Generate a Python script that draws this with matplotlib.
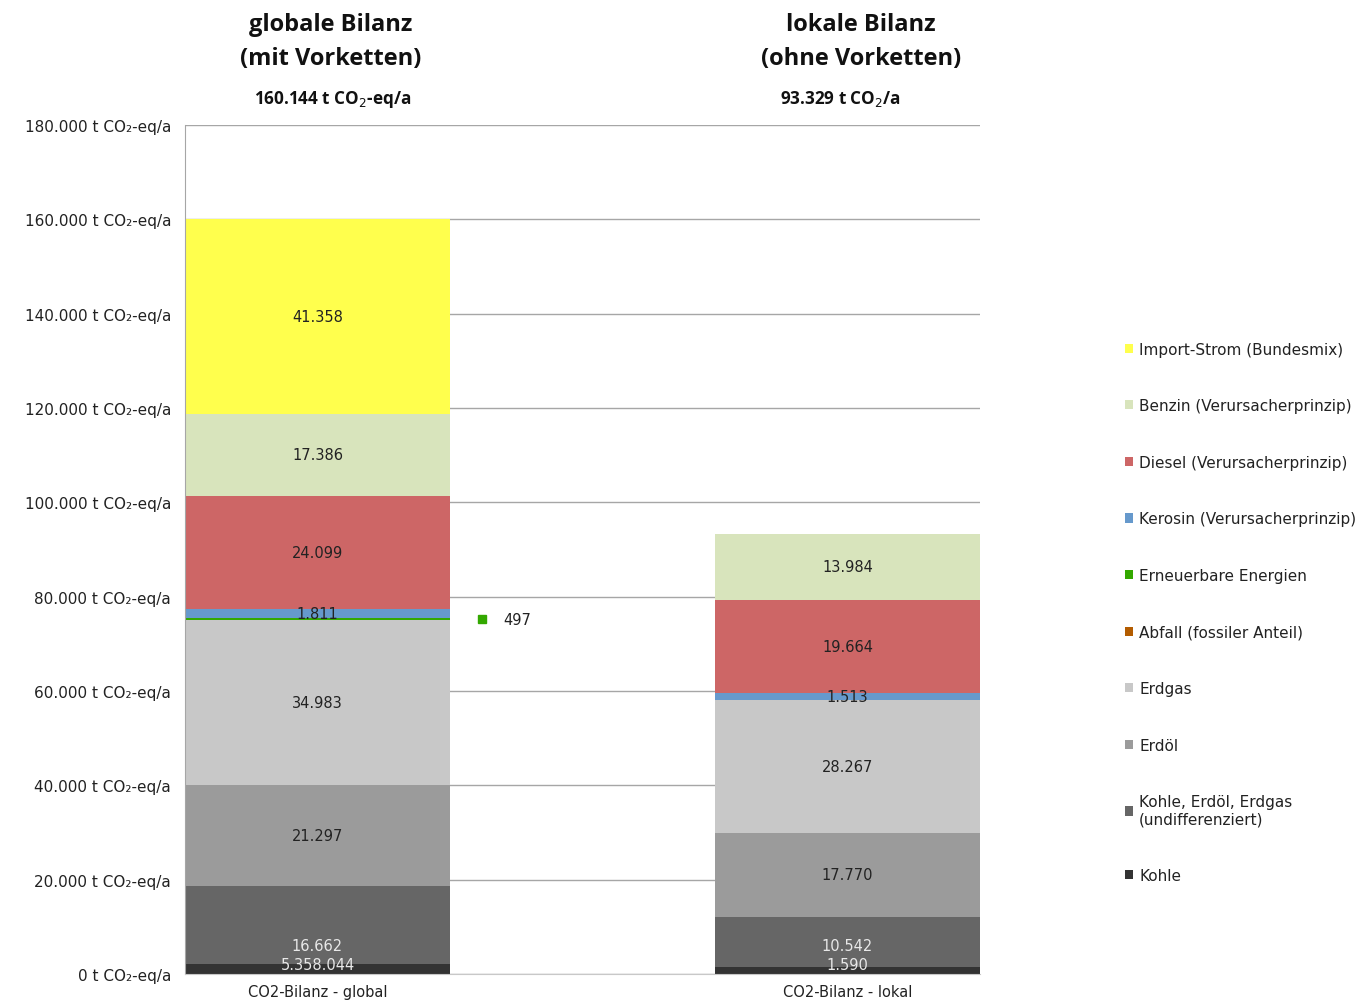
import matplotlib
matplotlib.use('Agg')
from matplotlib import pyplot as plt
from matplotlib.patches import Patch
from matplotlib.ticker import FuncFormatter

# Daten (t CO2-eq/a), Reihenfolge von unten nach oben im Stapel
kategorien = ['CO2-Bilanz - global', 'CO2-Bilanz - lokal']
traeger = ['Kohle', 'Kohle, Erdöl, Erdgas\n(undifferenziert)', 'Erdöl', 'Erdgas',
           'Abfall (fossiler Anteil)', 'Erneuerbare Energien', 'Kerosin (Verursacherprinzip)',
           'Diesel (Verursacherprinzip)', 'Benzin (Verursacherprinzip)', 'Import-Strom (Bundesmix)']
farben = ['#333333', '#666666', '#9b9b9b', '#c8c8c8', '#b35c00', '#33a800', '#6699cc',
          '#cd6666', '#d8e4bc', '#ffff4d']
werte_global = [2051, 16662, 21297, 34983, 0, 497, 1811, 24099, 17386, 41358]
werte_lokal = [1590, 10542, 17770, 28267, 0, 0, 1513, 19664, 13984, 0]
# Beschriftungen wie im Original (Kohle global steht dort als 5.358.044)
labels_global = ['5.358.044', '16.662', '21.297', '34.983', '', '', '1.811', '24.099', '17.386', '41.358']
labels_lokal = ['1.590', '10.542', '17.770', '28.267', '', '', '1.513', '19.664', '13.984', '']
titel = ['globale Bilanz\n(mit Vorketten)', 'lokale Bilanz\n(ohne Vorketten)']
summen = ['160.144 t CO$_2$-eq/a', '93.329 t CO$_2$/a']

fig = plt.figure(figsize=(13.63, 10.03), dpi=100)
ax = fig.add_axes([0.1357, 0.0279, 0.5833, 0.8465])

x = [0, 1]
breite = 0.5
boden = [0, 0]
for i, name in enumerate(traeger):
    h = [werte_global[i], werte_lokal[i]]
    ax.bar(x, h, breite, bottom=boden, color=farben[i], zorder=2)
    for j, lab in enumerate([labels_global[i], labels_lokal[i]]):
        if lab == '':
            continue
        y = boden[j] + h[j] / 2
        farbe = '#222222'
        if i == 0:
            y = 2000
            farbe = '#e8e8e8'
        elif i == 1:
            y = 6000
            farbe = '#e8e8e8'
        ax.text(x[j], y, lab, ha='center', va='center', fontsize=10.5, color=farbe, zorder=3)
    boden = [boden[0] + h[0], boden[1] + h[1]]

# Erneuerbare (global) neben dem Balken beschriftet
y_ee = sum(werte_global[:5]) + werte_global[5] / 2
ax.plot([0.31], [y_ee], marker='s', color=farben[5], markersize=6, linestyle='none', zorder=3)
ax.text(0.35, y_ee, str(werte_global[5]), va='center', fontsize=10.5, color='#222222')

ax.set_xlim(-0.25, 1.25)
ax.set_ylim(0, 180000)
ax.set_yticks(range(0, 180001, 20000))
ax.yaxis.set_major_formatter(FuncFormatter(
    lambda v, p: '{:,.0f}'.format(v).replace(',', '.') + ' t CO₂-eq/a'))
ax.set_xticks(x)
ax.set_xticklabels(kategorien)
ax.tick_params(axis='y', length=0, pad=10, labelsize=11, labelcolor='#222222')
ax.tick_params(axis='x', length=0, pad=7, labelsize=10.5, labelcolor='#222222')
ax.grid(axis='y', color='#a6a6a6', linewidth=1, zorder=0)
ax.set_axisbelow(True)
for s in ['top', 'right']:
    ax.spines[s].set_visible(False)
ax.spines['left'].set_color('#a6a6a6')
ax.spines['bottom'].set_color('#c8c8c8')

# Titel über den Balken
for j in range(2):
    xt = ax.transData.transform((x[j], 0))[0] / fig.bbox.width
    fig.text(xt + 0.01, 0.958, titel[j], ha='center', va='center', fontsize=17,
             fontweight='bold', family='Open Sans', linespacing=1.55, color='#111111')
    fig.text(xt + (0.011 if j == 0 else -0.005), 0.901, summen[j], ha='center', va='center',
             fontsize=12.3, fontweight='bold', family='Open Sans', color='#111111')

# Legende
handles = [Patch(facecolor=farben[i], label=traeger[i]) for i in range(len(traeger) - 1, -1, -1)]
fig.legend(handles=handles, loc='upper left', bbox_to_anchor=(0.815, 0.672), frameon=False,
           fontsize=11, handlelength=0.55, handleheight=0.55, handletextpad=0.4,
           labelspacing=2.72, labelcolor='#222222')

plt.savefig('out.png', dpi=100)
